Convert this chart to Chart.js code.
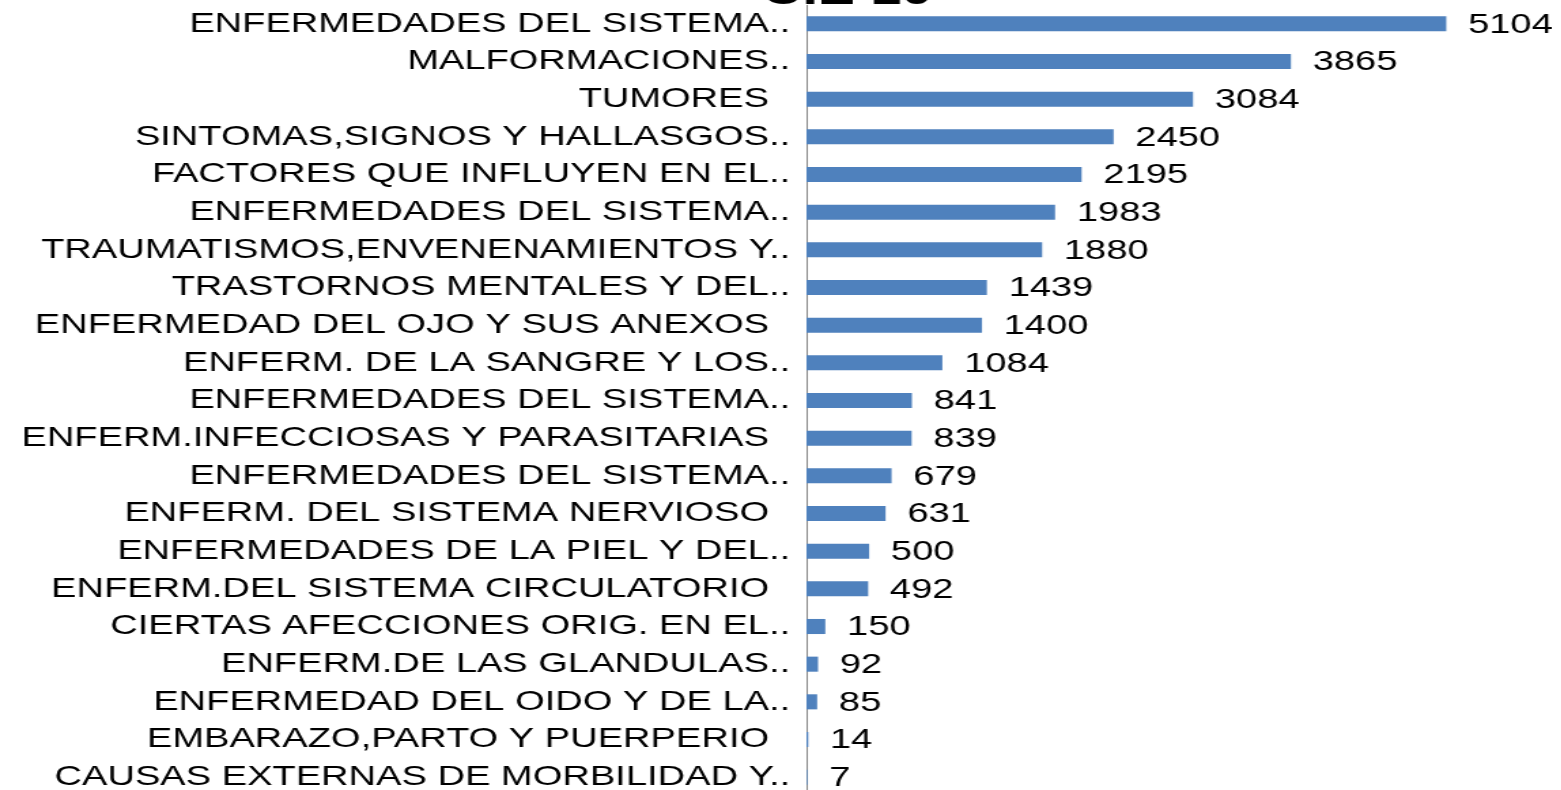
<!DOCTYPE html>
<html lang="es">
<head>
<meta charset="utf-8">
<title>CIE 10</title>
<script src="https://cdn.jsdelivr.net/npm/chart.js@4/dist/chart.umd.min.js"></script>
<style>
  html, body { margin: 0; padding: 0; background: #fff; overflow: hidden; }
  /* the original picture is stretched sideways, so the chart is drawn narrower and widened */
  .chart-wrap {
    position: absolute;
    left: 0;
    top: 0;
    width: 1148px;
    height: 796px;
    transform: scaleX(1.36);
    transform-origin: 0 0;
  }
</style>
</head>
<body>
<div class="chart-wrap"><canvas id="chart"></canvas></div>
<script>
const titleText = "CIE 10";

const categories = [
  "ENFERMEDADES DEL SISTEMA..",
  "MALFORMACIONES..",
  "TUMORES  ",
  "SINTOMAS,SIGNOS Y HALLASGOS..",
  "FACTORES QUE INFLUYEN EN EL..",
  "ENFERMEDADES DEL SISTEMA..",
  "TRAUMATISMOS,ENVENENAMIENTOS Y..",
  "TRASTORNOS MENTALES Y DEL..",
  "ENFERMEDAD DEL OJO Y SUS ANEXOS  ",
  "ENFERM. DE LA SANGRE Y LOS..",
  "ENFERMEDADES DEL SISTEMA..",
  "ENFERM.INFECCIOSAS Y PARASITARIAS  ",
  "ENFERMEDADES DEL SISTEMA..",
  "ENFERM. DEL SISTEMA NERVIOSO  ",
  "ENFERMEDADES DE LA PIEL Y DEL..",
  "ENFERM.DEL SISTEMA CIRCULATORIO  ",
  "CIERTAS AFECCIONES ORIG. EN EL..",
  "ENFERM.DE LAS GLANDULAS..",
  "ENFERMEDAD DEL OIDO Y DE LA..",
  "EMBARAZO,PARTO Y PUERPERIO  ",
  "CAUSAS EXTERNAS DE MORBILIDAD Y.."
];

const casos = [5104, 3865, 3084, 2450, 2195, 1983, 1880, 1439, 1400, 1084, 841,
  839, 679, 631, 500, 492, 150, 92, 85, 14, 7];

const xMin = 0;
const xMax = 6000;

// numero a la derecha de cada barra
const valueLabels = {
  id: "valueLabels",
  afterDatasetsDraw(chart) {
    const { ctx } = chart;
    const meta = chart.getDatasetMeta(0);
    ctx.save();
    ctx.font = "28px 'Liberation Sans', Arial, sans-serif";
    ctx.fillStyle = "#000";
    ctx.textAlign = "left";
    ctx.textBaseline = "middle";
    meta.data.forEach((bar, i) => {
      ctx.fillText(String(casos[i]), bar.x + 16, bar.y + 1);
    });
    ctx.restore();
  }
};

// titulo cortado arriba, como en la imagen
const cutTitle = {
  id: "cutTitle",
  afterDraw(chart) {
    const { ctx } = chart;
    ctx.save();
    ctx.font = "bold 41px 'Liberation Sans', Arial, sans-serif";
    ctx.fillStyle = "#000";
    ctx.textAlign = "center";
    ctx.textBaseline = "alphabetic";
    ctx.fillText(titleText, 623, 4);
    ctx.restore();
  }
};

document.addEventListener("DOMContentLoaded", () => {
  const ctx = document.getElementById("chart");
  new Chart(ctx, {
    type: "bar",
    data: {
      labels: categories,
      datasets: [
        {
          data: casos,
          backgroundColor: "#4f81bd",
          borderWidth: 0,
          categoryPercentage: 1,
          barPercentage: 0.4
        }
      ]
    },
    options: {
      indexAxis: "y",
      responsive: true,
      maintainAspectRatio: false,
      animation: false,
      layout: { padding: { top: 5, right: 2, bottom: 0, left: 0 } },
      plugins: {
        legend: { display: false },
        tooltip: { enabled: false },
        title: { display: false }
      },
      scales: {
        x: { display: false, min: xMin, max: xMax },
        y: {
          grid: { display: false, drawTicks: false },
          border: { display: true, color: "#8c8c8c", width: 1 },
          ticks: {
            autoSkip: false,
            color: "#000",
            padding: 12,
            font: { family: "'Liberation Sans', Arial, sans-serif", size: 28 }
          },
          afterFit: (scale) => {
            scale.width = 593;
            scale.paddingTop = 0;
            scale.paddingBottom = 0;
          }
        }
      }
    },
    plugins: [valueLabels, cutTitle]
  });
});
</script>
</body>
</html>
